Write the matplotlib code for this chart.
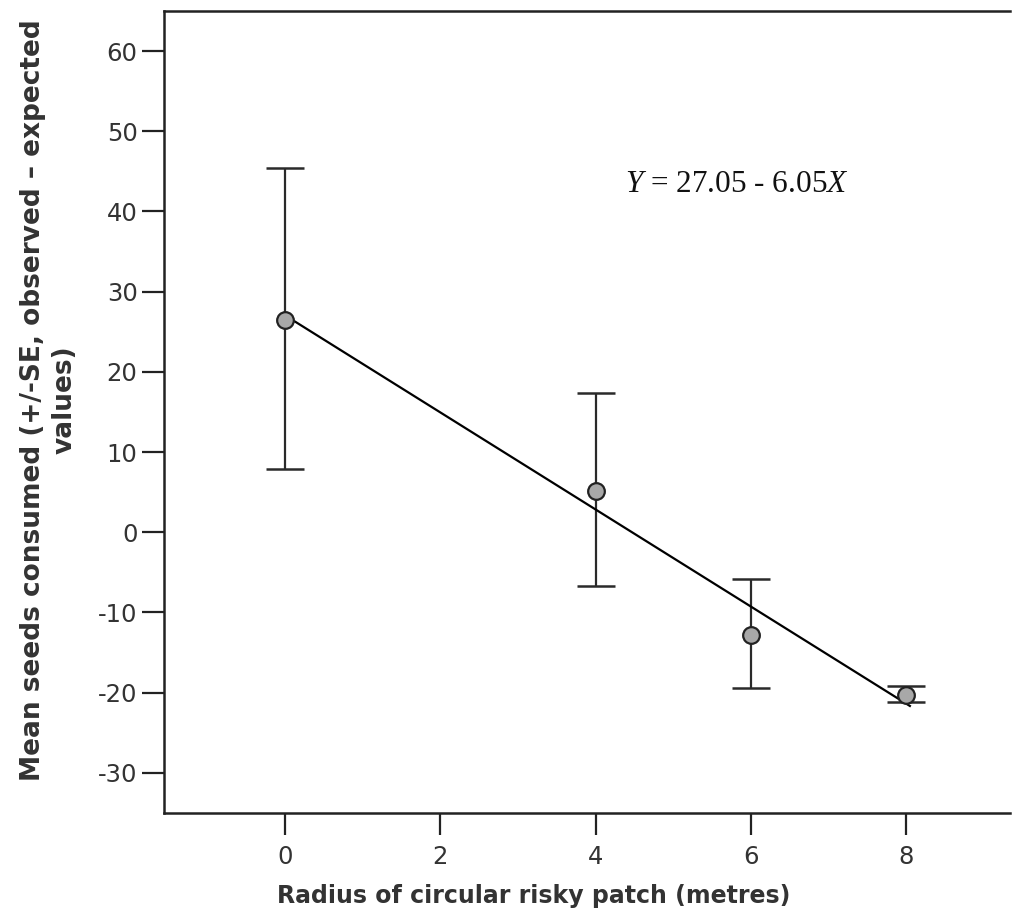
import matplotlib
matplotlib.use("Agg")
import matplotlib.pyplot as plt
import numpy as np

# Data
radius = [0, 4, 6, 8]
mean_seeds = [26.5, 5.2, -12.8, -20.3]
se_upper = [45.4, 17.4, -5.8, -19.2]
se_lower = [7.9, -6.7, -19.4, -21.2]
intercept = 27.05
slope = -6.05
fit_range = [0, 8.05]
x_ticks = [0, 2, 4, 6, 8]
y_ticks = [-30, -20, -10, 0, 10, 20, 30, 40, 50, 60]

plt.rcParams['font.family'] = ['DejaVu Sans']
plt.rcParams['axes.unicode_minus'] = False
plt.rcParams['mathtext.fontset'] = 'custom'
plt.rcParams['mathtext.rm'] = 'Liberation Serif'
plt.rcParams['mathtext.it'] = 'Liberation Serif:italic'

fig = plt.figure(figsize=(10.21, 9.21), dpi=100)
ax = fig.add_axes([164/1021, 1-813/921, (1010-164)/1021, (813-11)/921])

m = np.array(mean_seeds)
yerr = np.array([m - np.array(se_lower), np.array(se_upper) - m])
ax.errorbar(radius, mean_seeds, yerr=yerr, fmt='none', ecolor='#2a2a2a',
            elinewidth=1.6, capsize=14, capthick=1.8, zorder=2)

xf = np.array(fit_range)
ax.plot(xf, intercept + slope * xf, color='black', lw=1.6, zorder=3)

ax.plot(radius, mean_seeds, 'o', ms=12, mfc='#a8a8a8', mec='#222222',
        mew=1.6, zorder=4)

ax.text(4.38, 43.4, r'$\mathit{Y}$ = 27.05 - 6.05$\mathit{X}$', fontsize=22.5,
        va='center', ha='left', color='#111111', family='Liberation Serif')

ax.set_xlim(-1.56, 9.34)
ax.set_ylim(-35, 65)
ax.set_xticks(x_ticks)
ax.set_yticks(y_ticks)
ax.spines['right'].set_visible(False)
for s in ['left', 'bottom', 'top']:
    ax.spines[s].set_linewidth(1.8)
    ax.spines[s].set_color('#222222')
ax.tick_params(axis='both', direction='out', length=16, width=1.6,
               color='#222222', labelsize=17.5, labelcolor='#333333')
ax.tick_params(axis='x', pad=7)
ax.tick_params(axis='y', pad=3)

ax.set_xlabel('Radius of circular risky patch (metres)', fontsize=17,
              fontweight='bold', color='#333333')
ax.xaxis.set_label_coords(0.437, -0.088)
ax.set_ylabel('Mean seeds consumed (+/-SE, observed \u2013 expected\nvalues)',
              fontsize=19, fontweight='bold', color='#333333', linespacing=1.3)
ax.yaxis.set_label_coords(-0.102, 0.515)

fig.savefig('out.png', dpi=100)
